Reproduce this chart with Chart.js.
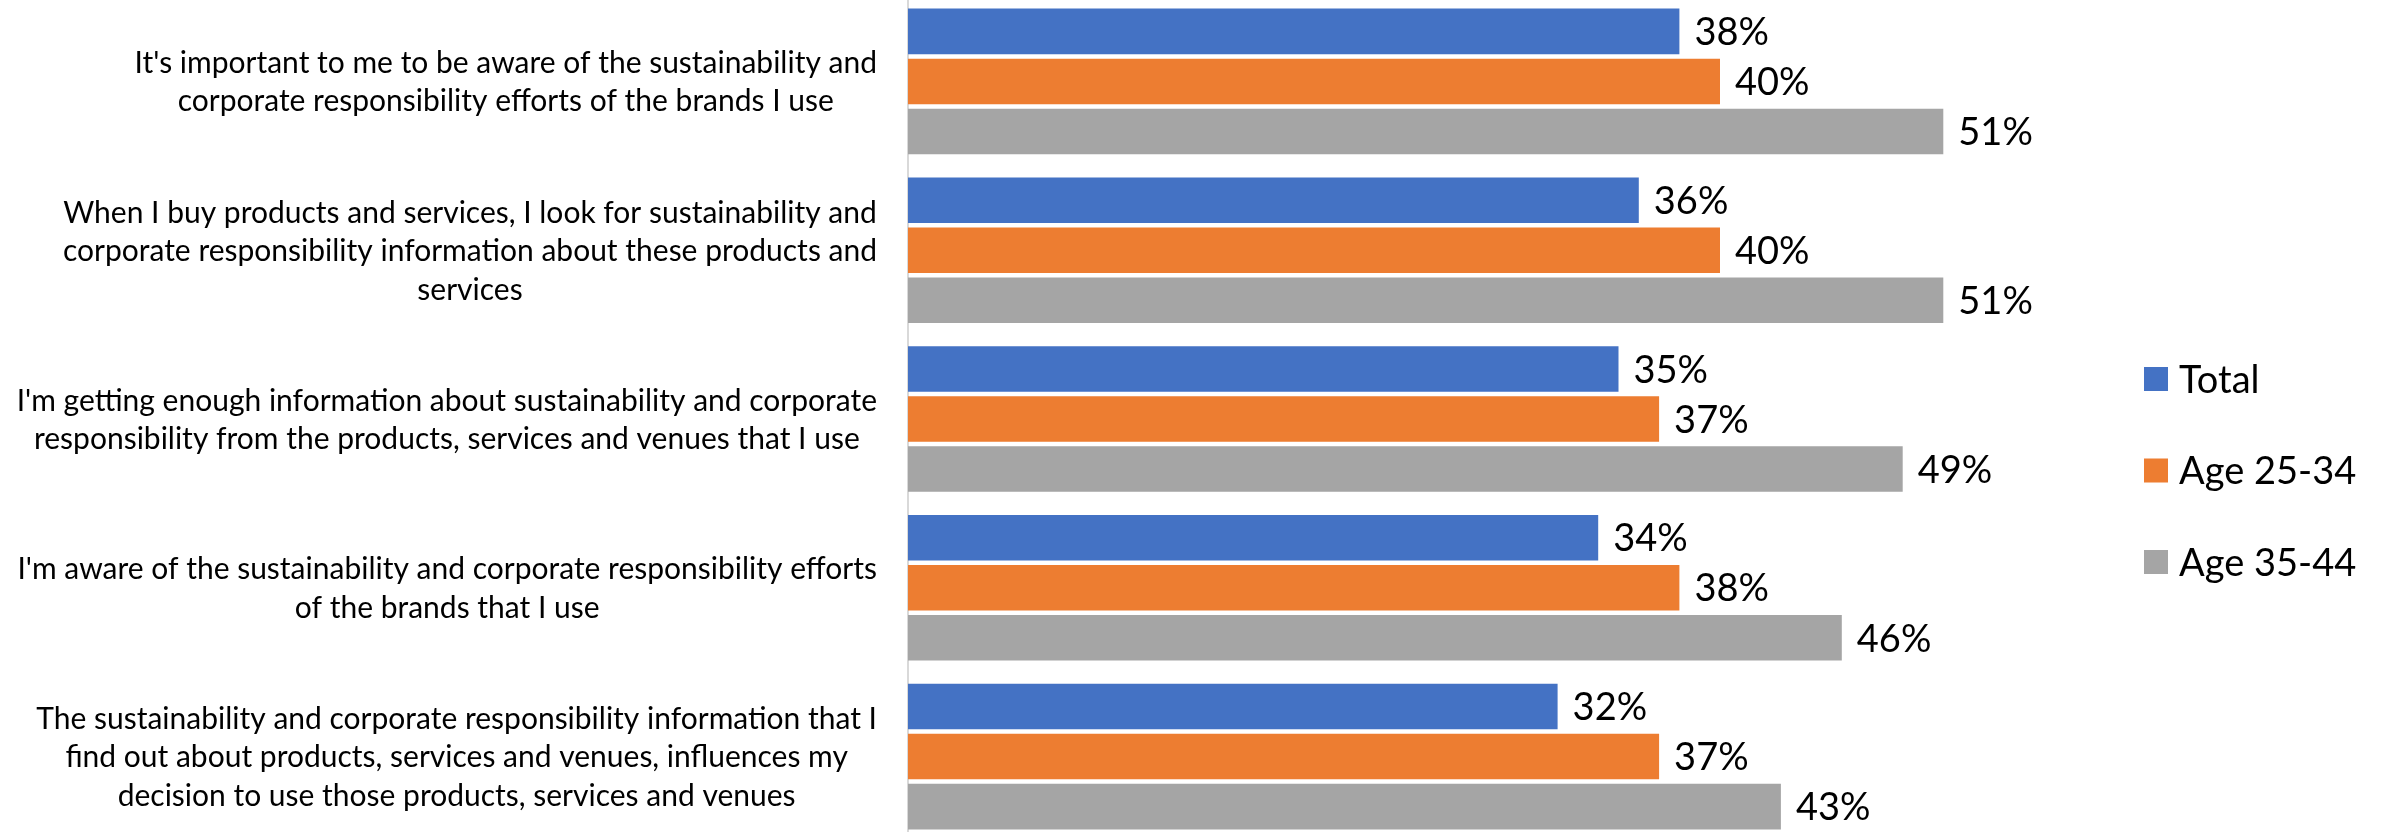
<!DOCTYPE html>
<html>
<head>
<meta charset="utf-8">
<script src="https://cdn.jsdelivr.net/npm/chart.js@4.4.1/dist/chart.umd.min.js"></script>
<style>
  html, body { margin: 0; padding: 0; background: #ffffff; overflow: hidden; width: 2382px; height: 832px; }
  #wrap { position: absolute; left: 0; top: -3px; width: 2382px; height: 844px; }
</style>
</head>
<body>
<div id="wrap"><canvas id="chart"></canvas></div>
<script>
// Survey statements (one array of lines per category)
const categories = [
  ["It's important to me to be aware of the sustainability and",
   "corporate responsibility efforts of the brands I use"],
  ["When I buy products and services, I look for sustainability and",
   "corporate responsibility information about these products and",
   "services"],
  ["I'm getting enough information about sustainability and corporate",
   "responsibility from the products, services and venues that I use"],
  ["I'm aware of the sustainability and corporate responsibility efforts",
   "of the brands that I use"],
  ["The sustainability and corporate responsibility information that I",
   "find out about products, services and venues, influences my",
   "decision to use those products, services and venues"]
];

const seriesNames = ["Total", "Age 25-34", "Age 35-44"];

// Share of respondents agreeing, in percent
const totalValues = [38, 36, 35, 34, 32];
const age25to34Values = [40, 40, 37, 38, 37];
const age35to44Values = [51, 51, 49, 46, 43];

const seriesColors = ["#4472C4", "#ED7D31", "#A5A5A5"];

const FONT = "Lato, 'Open Sans', sans-serif";

// Draws category text, value labels and the legend on top of the bars
const annotationLayer = {
  id: 'annotationLayer',
  afterDatasetsDraw(chart) {
    const ctx = chart.ctx;
    const area = chart.chartArea;
    const yScale = chart.scales.y;
    ctx.save();
    ctx.fillStyle = '#000000';
    ctx.textBaseline = 'alphabetic';

    // Category labels: each block right-aligned to the axis, lines centred within the block
    const catSize = 30, catLine = 38.5;
    ctx.font = catSize + 'px ' + FONT;
    ctx.textAlign = 'center';
    chart.data.labels.forEach((lines, i) => {
      const cy = yScale.getPixelForValue(i);
      const widest = Math.max(...lines.map(l => ctx.measureText(l).width));
      const cx = area.left - 31 - widest / 2;
      lines.forEach((line, j) => {
        const y = cy + (j - (lines.length - 1) / 2) * catLine + catSize * 0.36;
        ctx.fillText(line, cx, y);
      });
    });

    // Value labels at the end of each bar
    const valSize = 38;
    ctx.font = valSize + 'px ' + FONT;
    ctx.textAlign = 'left';
    chart.data.datasets.forEach((ds, di) => {
      const meta = chart.getDatasetMeta(di);
      meta.data.forEach((bar, i) => {
        ctx.fillText(ds.data[i] + '%', bar.x + 15, bar.y + valSize * 0.36);
      });
    });

    // Legend
    const legendX = 2144, box = 24, legendMid = 473.5, legendStep = 91.5;
    const n = chart.data.datasets.length;
    chart.data.datasets.forEach((ds, di) => {
      const cy = legendMid + (di - (n - 1) / 2) * legendStep;
      ctx.fillStyle = ds.backgroundColor;
      ctx.fillRect(legendX, cy - box / 2, box, box);
      ctx.fillStyle = '#000000';
      ctx.fillText(ds.label, legendX + box + 11, cy + valSize * 0.36);
    });
    ctx.restore();
  }
};

const seriesValues = [totalValues, age25to34Values, age35to44Values];

new Chart(document.getElementById('chart'), {
  type: 'bar',
  data: {
    labels: categories,
    datasets: seriesNames.map((name, k) => ({
      label: name,
      data: seriesValues[k],
      backgroundColor: seriesColors[k],
      categoryPercentage: 0.889,
      barPercentage: 0.91
    }))
  },
  options: {
    indexAxis: 'y',
    responsive: true,
    maintainAspectRatio: false,
    animation: false,
    layout: { padding: { left: 908, right: 256, top: 0, bottom: 0 } },
    scales: {
      x: { display: false, min: 0, max: 60 },
      y: {
        display: true,
        grid: { display: false, drawTicks: false },
        border: { display: true, color: '#d9d9d9', width: 2 },
        ticks: { display: false }
      }
    },
    plugins: {
      legend: { display: false },
      tooltip: { enabled: false }
    }
  },
  plugins: [annotationLayer]
});
</script>
</body>
</html>
